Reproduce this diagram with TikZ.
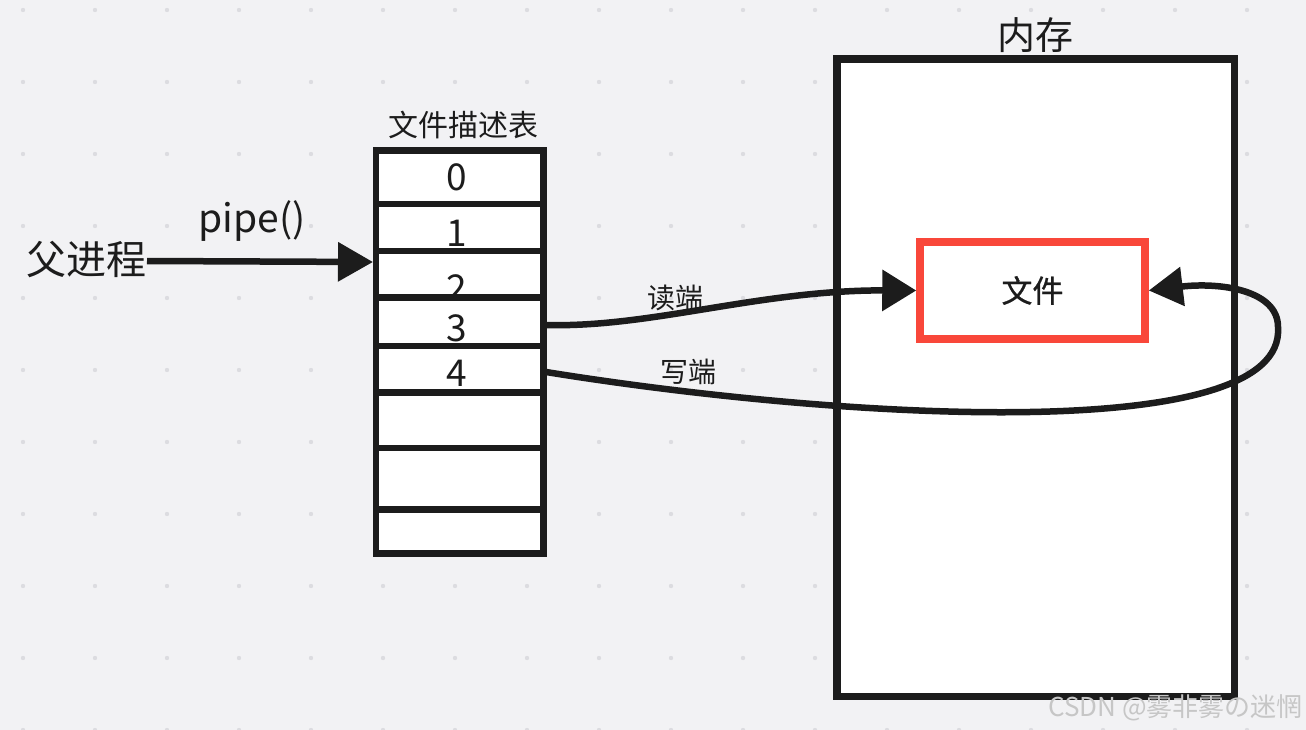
\documentclass[tikz,border=0pt]{standalone}
\usepackage{fontspec}
\setmainfont{Noto Sans CJK SC}
\newfontfamily\filefont{Noto Sans CJK SC}[FakeBold=0.8]
\usetikzlibrary{arrows.meta}
\definecolor{bg}{HTML}{F2F2F4}
\definecolor{ink}{HTML}{1C1C1C}
\definecolor{dotc}{HTML}{DCDCE0}
\definecolor{redb}{HTML}{F9473A}
\definecolor{wm}{HTML}{C6C6C6}
\tikzset{
  cell/.style={draw=ink, fill=white, line width=6.5pt, inner sep=0pt, minimum width=167.5pt},
  conn/.style={draw=ink, line width=6.5pt},
  bigtip/.style={-{Triangle[length=35pt,width=38pt]}},
  lbl/.style={text=ink, inner sep=0pt},
}
\newcommand{\fs}[1]{\fontsize{#1}{#1}\selectfont}
\begin{document}
\begin{tikzpicture}[x=1pt,y=-1pt]
\fill[bg] (0,0) rectangle (1306,730);
\useasboundingbox (0,0) rectangle (1306,730);
\foreach \i in {0,...,17}{
  \foreach \j in {0,...,10}{
    \fill[dotc] ({23+72*\i},{10+72*\j}) circle (2.2);
  }
}
% memory
\node[draw=ink, fill=white, line width=7.5pt, inner sep=0pt, minimum width=397.5pt, minimum height=637.5pt] (mem) at (1035.75,377.75) {};
\node[lbl, font=\fs{38}] (memlbl) at (1035,35) {内存};
\node[draw=redb, fill=white, line width=7.5pt, inner sep=0pt, minimum width=225pt, minimum height=97pt, text=ink, font=\filefont\fs{31}] (file) at (1032.5,290.5) {文件};
% table
\node[cell, minimum height=53.3pt] (r0) at (459.75,177.35) {};
\node[cell, minimum height=47pt]   (r1) at (459.75,227.5) {};
\node[cell, minimum height=46.7pt] (r2) at (459.75,274.35) {};
\node[cell, minimum height=48.3pt] (r3) at (459.75,321.85) {};
\node[cell, minimum height=46.3pt] (r4) at (459.75,369.15) {};
\node[cell, minimum height=55.7pt] (r5) at (459.75,420.15) {};
\node[cell, minimum height=61.3pt] (r6) at (459.75,478.65) {};
\node[cell, minimum height=44.4pt] (r7) at (459.75,531.5) {};
\node[lbl, font=\fs{30}] (tbl) at (463,125) {文件描述表};
\node[lbl, font=\fs{37}, anchor=base] (d0) at (457,190.7) {0};
\node[lbl, font=\fs{37}, anchor=base] (d1) at (457,246.7) {1};
\node[lbl, font=\fs{37}, anchor=base] (d2) at (457,301.7) {2};
\node[lbl, font=\fs{37}, anchor=base] (d3) at (457,341.7) {3};
\node[lbl, font=\fs{37}, anchor=base] (d4) at (457,386.7) {4};
% parent
\node[lbl, font=\fs{40}, anchor=east] (parent) at (147,259) {父进程};
\node[lbl, font=\fs{39}] (pipe) at (252,221) {pipe()};
\coordinate (pin) at (373,262);
\draw[conn, bigtip] (parent.east |- 0,261) -- (pin);
% read
\coordinate (rs) at (546,325);
\draw[conn, -{Triangle[length=34pt,width=40pt]}] (rs) .. controls (650,328) and (760,290) .. (file.west);
\node[lbl, font=\fs{28}] (rlbl) at (675,298) {读端};
% write
\coordinate (ws) at (546,372);
\coordinate (wr) at (1278,327);
\draw[conn, -{Triangle[length=34pt,width=38pt]}] (ws) .. controls (830,418) and (1287,448) .. (wr)
  .. controls (1278,290) and (1220,282) .. (file.east);
\node[lbl, font=\fs{28}] (wlbl) at (688,372) {写端};
% watermark
\node[lbl, text=wm, font=\fs{26}, anchor=east] (wmk) at (1303,708) {CSDN @雾非雾の迷惘};
\end{tikzpicture}
\end{document}
